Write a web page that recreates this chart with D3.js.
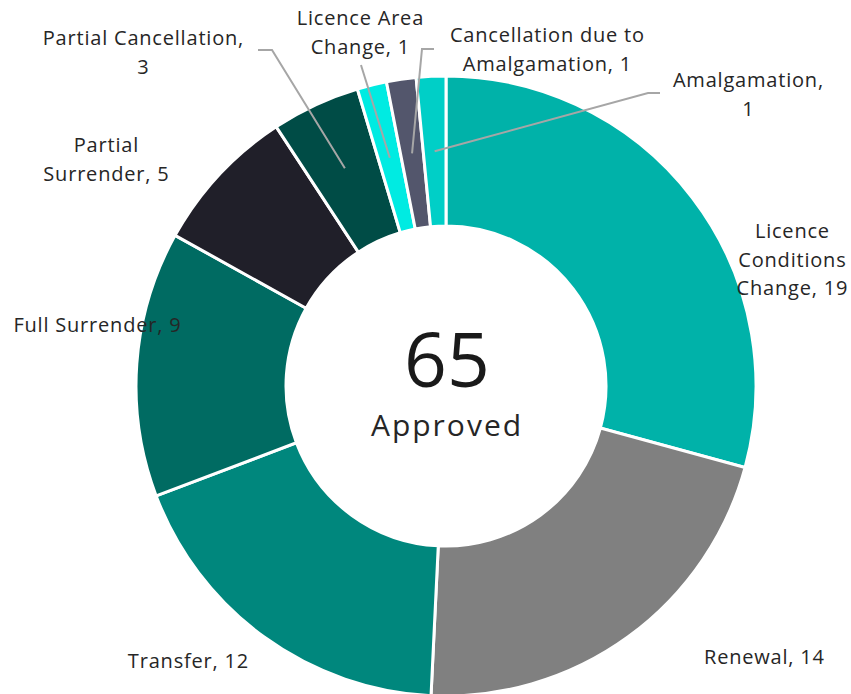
<!DOCTYPE html>
<html><head><meta charset="utf-8">
<script src="https://cdn.jsdelivr.net/npm/d3@7"></script>
<style>html,body{margin:0;padding:0;background:#fff;}svg{display:block;}</style>
</head><body>
<svg id="chart" width="851" height="694"></svg>
<script>
const categories = ["Licence Conditions Change","Renewal","Transfer","Full Surrender","Partial Surrender","Partial Cancellation","Licence Area Change","Cancellation due to Amalgamation","Amalgamation"];
const values = [19,14,12,9,5,3,1,1,1];
const colors = ["#00B2A9","#808080","#00877D","#006B62","#201F29","#004C46","#00EBE2","#53566C","#00CFC7"];
const labelLines = [
  ["Licence","Conditions","Change, 19"],
  ["Renewal, 14"],
  ["Transfer, 12"],
  ["Full Surrender, 9"],
  ["Partial","Surrender, 5"],
  ["Partial Cancellation,","3"],
  ["Licence Area","Change, 1"],
  ["Cancellation due to","Amalgamation, 1"],
  ["Amalgamation,","1"]
];
const totalValue = 65;
const centerLabel = "Approved";

const svg = d3.select("#chart");
const cx = 446, cy = 386, outerR = 310, innerR = 160;
const g = svg.append("g").attr("transform", `translate(${cx},${cy})`);

const data = categories.map((c,i)=>({name:c, value:values[i], color:colors[i], lines:labelLines[i]}));
const pie = d3.pie().value(d=>d.value).sort(null).startAngle(0).endAngle(2*Math.PI);
const arcs = pie(data);
const arc = d3.arc().innerRadius(innerR).outerRadius(outerR);

g.selectAll("path.slice").data(arcs).enter().append("path")
  .attr("class","slice")
  .attr("d", arc)
  .attr("fill", d=>d.data.color)
  .attr("stroke","#fff").attr("stroke-width",3).attr("stroke-linejoin","miter");

const labelPos = [
  [792,231],[764,657],[188,661],[97,325],[106,145],[143,38],[360,18],[547,35],[748,80]
];
const lineH = 28.6;
const font = "'Open Sans', sans-serif";

const leaderIdx = [5,6,7,8];
const leaderStarts = {5:[[258,50],[272,50]],6:[[361,65]],7:[[434,49],[422,49]],8:[[660,93],[648,93]]};
leaderIdx.forEach(i=>{
  const a = arcs[i];
  const ang = (a.startAngle + a.endAngle)/2;
  const r = i===5 ? 240 : 235;
  const ex = cx + r*Math.sin(ang), ey = cy - r*Math.cos(ang);
  const pts = leaderStarts[i].concat([[ex,ey]]);
  svg.append("path").attr("d", d3.line()(pts))
    .attr("fill","none").attr("stroke","#A6A6A6").attr("stroke-width",2);
});

const ls = 0.8;
data.forEach((d,i)=>{
  const [x,y] = labelPos[i];
  const t = svg.append("text").attr("x",x).attr("y",y)
    .attr("text-anchor","middle").attr("font-family",font).attr("font-size",20)
    .attr("letter-spacing", ls + "px")
    .attr("fill","#262626");
  d.lines.forEach((ln,j)=>{
    t.append("tspan").attr("x",x + ls/2).attr("y", y + j*lineH).attr("dy","0.35em").text(ln);
  });
});

svg.append("text").attr("x",cx + 1).attr("y",360).attr("dy","0.36em")
  .attr("text-anchor","middle").attr("font-family",font).attr("font-size",75)
  .attr("fill","#1a1a1a").text(totalValue);
svg.append("text").attr("x",cx + 1).attr("y",425).attr("dy","0.35em")
  .attr("text-anchor","middle").attr("font-family",font).attr("font-size",30)
  .attr("letter-spacing","2px")
  .attr("fill","#262626").text(centerLabel);
</script>
</body></html>
